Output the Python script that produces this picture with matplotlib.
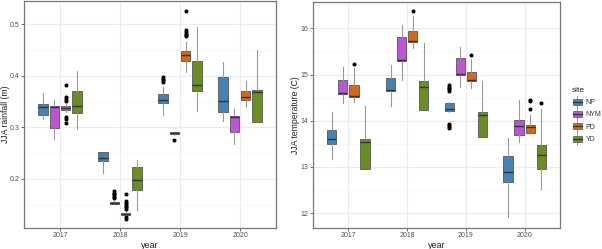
import matplotlib
matplotlib.use("Agg")
import matplotlib.pyplot as plt
from matplotlib.legend_handler import HandlerBase
from matplotlib.patches import Rectangle
from matplotlib.lines import Line2D

plt.rcParams['font.family'] = ['Liberation Sans', 'DejaVu Sans']

years = ["2017", "2018", "2019", "2020"]
sites = ["NP", "NYM", "PD", "YD"]
site_colors = ["#4682B4", "#BA55D3", "#D2691E", "#6B8E23"]

# (whisker low, q1, median, q3, whisker high) per year
rain_NP = [(0.316, 0.325, 0.340, 0.345, 0.367), (0.212, 0.235, 0.240, 0.253, 0.253),
           (0.325, 0.348, 0.353, 0.364, 0.378), (0.313, 0.330, 0.352, 0.397, 0.427)]
rain_NYM = [(0.277, 0.298, 0.339, 0.341, 0.353), (0.152, 0.152, 0.154, 0.156, 0.157),
            (0.286, 0.287, 0.289, 0.292, 0.292), (0.268, 0.291, 0.321, 0.322, 0.336)]
rain_PD = [(0.330, 0.334, 0.338, 0.341, 0.345), (0.128, 0.131, 0.133, 0.135, 0.139),
           (0.408, 0.429, 0.440, 0.449, 0.466), (0.341, 0.354, 0.358, 0.370, 0.389)]
rain_YD = [(0.296, 0.328, 0.342, 0.371, 0.409), (0.139, 0.179, 0.198, 0.224, 0.237),
           (0.332, 0.371, 0.383, 0.429, 0.494), (0.311, 0.311, 0.368, 0.372, 0.450)]
rain_NP_out = [[], [], [0.397, 0.394, 0.391, 0.388], []]
rain_NYM_out = [[], [0.176, 0.173, 0.170, 0.168, 0.166, 0.163], [0.275], []]
rain_PD_out = [[0.382, 0.358, 0.355, 0.352, 0.321, 0.317, 0.309],
               [0.170, 0.157, 0.154, 0.151, 0.148, 0.145, 0.142, 0.126, 0.123],
               [0.526, 0.488, 0.485, 0.482, 0.479, 0.477], []]
rain_YD_out = [[], [], [], []]

temp_NP = [(13.17, 13.50, 13.60, 13.79, 14.18), (14.32, 14.65, 14.67, 14.92, 15.20),
           (14.18, 14.22, 14.25, 14.38, 14.41), (11.91, 12.68, 12.90, 13.24, 13.62)]
temp_NYM = [(14.38, 14.59, 14.61, 14.88, 15.17), (14.88, 15.30, 15.31, 15.82, 16.07),
            (14.74, 15.00, 15.01, 15.35, 15.60), (13.55, 13.69, 13.89, 14.02, 14.45)]
temp_PD = [(14.41, 14.51, 14.53, 14.77, 15.14), (15.58, 15.70, 15.72, 15.95, 16.27),
           (14.72, 14.87, 14.88, 15.06, 15.34), (13.72, 13.74, 13.86, 13.91, 14.13)]
temp_YD = [(12.96, 12.96, 13.53, 13.60, 14.32), (14.23, 14.23, 14.74, 14.87, 15.68),
           (13.64, 13.64, 14.13, 14.20, 14.85), (12.52, 12.95, 13.26, 13.48, 14.25)]
temp_NP_out = [[], [], [14.77, 14.74, 14.71, 14.68, 14.65, 13.93, 13.90, 13.87, 13.84], []]
temp_NYM_out = [[], [], [], []]
temp_PD_out = [[15.23], [16.37], [15.42], [14.46, 14.42, 14.25]]
temp_YD_out = [[], [], [], [14.38]]

rain_ticks = [0.2, 0.3, 0.4, 0.5]
temp_ticks = [12, 13, 14, 15, 16]

GRID_MAJ = "#EBEBEB"
GRID_MIN = "#F4F4F4"
TXT = "#4D4D4D"

fig = plt.figure(figsize=(6.02, 2.49), dpi=100)
ax1 = fig.add_axes([24 / 602, 21 / 249, 252 / 602, 227 / 249])
ax2 = fig.add_axes([313 / 602, 21 / 249, 247 / 602, 226 / 249])


def draw(ax, stats_by_site, out_by_site, ylim, yticks, ylabel, label_x):
    dodge = 0.1875
    for j, (st, outs, col) in enumerate(zip(stats_by_site, out_by_site, site_colors)):
        bx = []
        for (lo, q1, med, q3, hi), fl in zip(st, outs):
            bx.append(dict(whislo=lo, q1=q1, med=med, q3=q3, whishi=hi, fliers=fl))
        pos = [i + 1 + (j - 1.5) * dodge for i in range(len(years))]
        ax.bxp(bx, positions=pos, widths=0.16, patch_artist=True, showcaps=False,
               boxprops=dict(facecolor=col, edgecolor="#555555", linewidth=0.6),
               medianprops=dict(color="#333333", linewidth=1.0),
               whiskerprops=dict(color="#999999", linewidth=0.8),
               flierprops=dict(marker="o", markersize=1.9, markerfacecolor="black",
                               markeredgecolor="black", linestyle="none"),
               manage_ticks=False, zorder=3)
    ax.set_xlim(0.4, 4.6)
    ax.set_ylim(*ylim)
    ax.set_xticks(range(1, 5))
    ax.set_xticklabels(years)
    ax.set_yticks(yticks)
    step = yticks[1] - yticks[0]
    minors = [t + step / 2 for t in [yticks[0] - step] + yticks]
    ax.set_yticks([m for m in minors if ylim[0] < m < ylim[1]], minor=True)
    ax.tick_params(axis="y", which="minor", length=0)
    ax.grid(True, which="major", color=GRID_MAJ, linewidth=0.8, zorder=0)
    ax.grid(True, which="minor", axis="y", color=GRID_MIN, linewidth=0.5, zorder=0)
    ax.set_axisbelow(True)
    ax.tick_params(axis="both", which="major", labelsize=5, colors="#333333",
                   labelcolor=TXT, length=2, width=0.5, pad=1.2)
    for s in ax.spines.values():
        s.set_color("#777777")
        s.set_linewidth(0.9)
    ax.set_xlabel("year", fontsize=6.5, color="#222222", labelpad=1)
    ax.set_ylabel(ylabel, fontsize=6.2, color="#222222")
    ax.yaxis.label.set_va("center")
    ax.yaxis.set_label_coords(label_x, 0.5)


draw(ax1, [rain_NP, rain_NYM, rain_PD, rain_YD],
     [rain_NP_out, rain_NYM_out, rain_PD_out, rain_YD_out],
     (0.105, 0.545), rain_ticks, "JJA rainfall (m)", -(24 - 6.0) / 252)
draw(ax2, [temp_NP, temp_NYM, temp_PD, temp_YD],
     [temp_NP_out, temp_NYM_out, temp_PD_out, temp_YD_out],
     (11.68, 16.57), temp_ticks, "JJA temperature (C)", -(313 - 296) / 247)


class BoxKey(HandlerBase):
    def create_artists(self, legend, orig_handle, xdescent, ydescent, width, height,
                       fontsize, trans):
        col = orig_handle.get_facecolor()
        cx = xdescent * -1 + width / 2
        bw = width * 0.75
        bh = height * 0.8
        x0 = cx - bw / 2
        y0 = -ydescent + (height - bh) / 2
        wl = Line2D([cx, cx], [-ydescent - 1.5, -ydescent + height + 1.5],
                    color="#999999", lw=0.7, transform=trans)
        r = Rectangle((x0, y0), bw, bh, facecolor=col, edgecolor="#555555",
                      lw=0.5, transform=trans)
        m = Line2D([x0, x0 + bw], [y0 + bh / 2, y0 + bh / 2], color="#333333",
                   lw=0.9, transform=trans)
        return [wl, r, m]


handles = [Rectangle((0, 0), 1, 1, facecolor=c) for c in site_colors]
leg = fig.legend(handles, sites, title="site", loc="upper left",
                 bbox_to_anchor=(567 / 602, 1 - 82 / 249), frameon=False,
                 fontsize=5, title_fontsize=6, handler_map={Rectangle: BoxKey()},
                 handlelength=1.6, handleheight=1.3, handletextpad=0.4,
                 labelspacing=0.6, borderpad=0.2, alignment="left")
for t in leg.get_texts():
    t.set_color("#333333")
leg.get_title().set_color("#222222")

fig.savefig("out.png", dpi=100, facecolor="white")
